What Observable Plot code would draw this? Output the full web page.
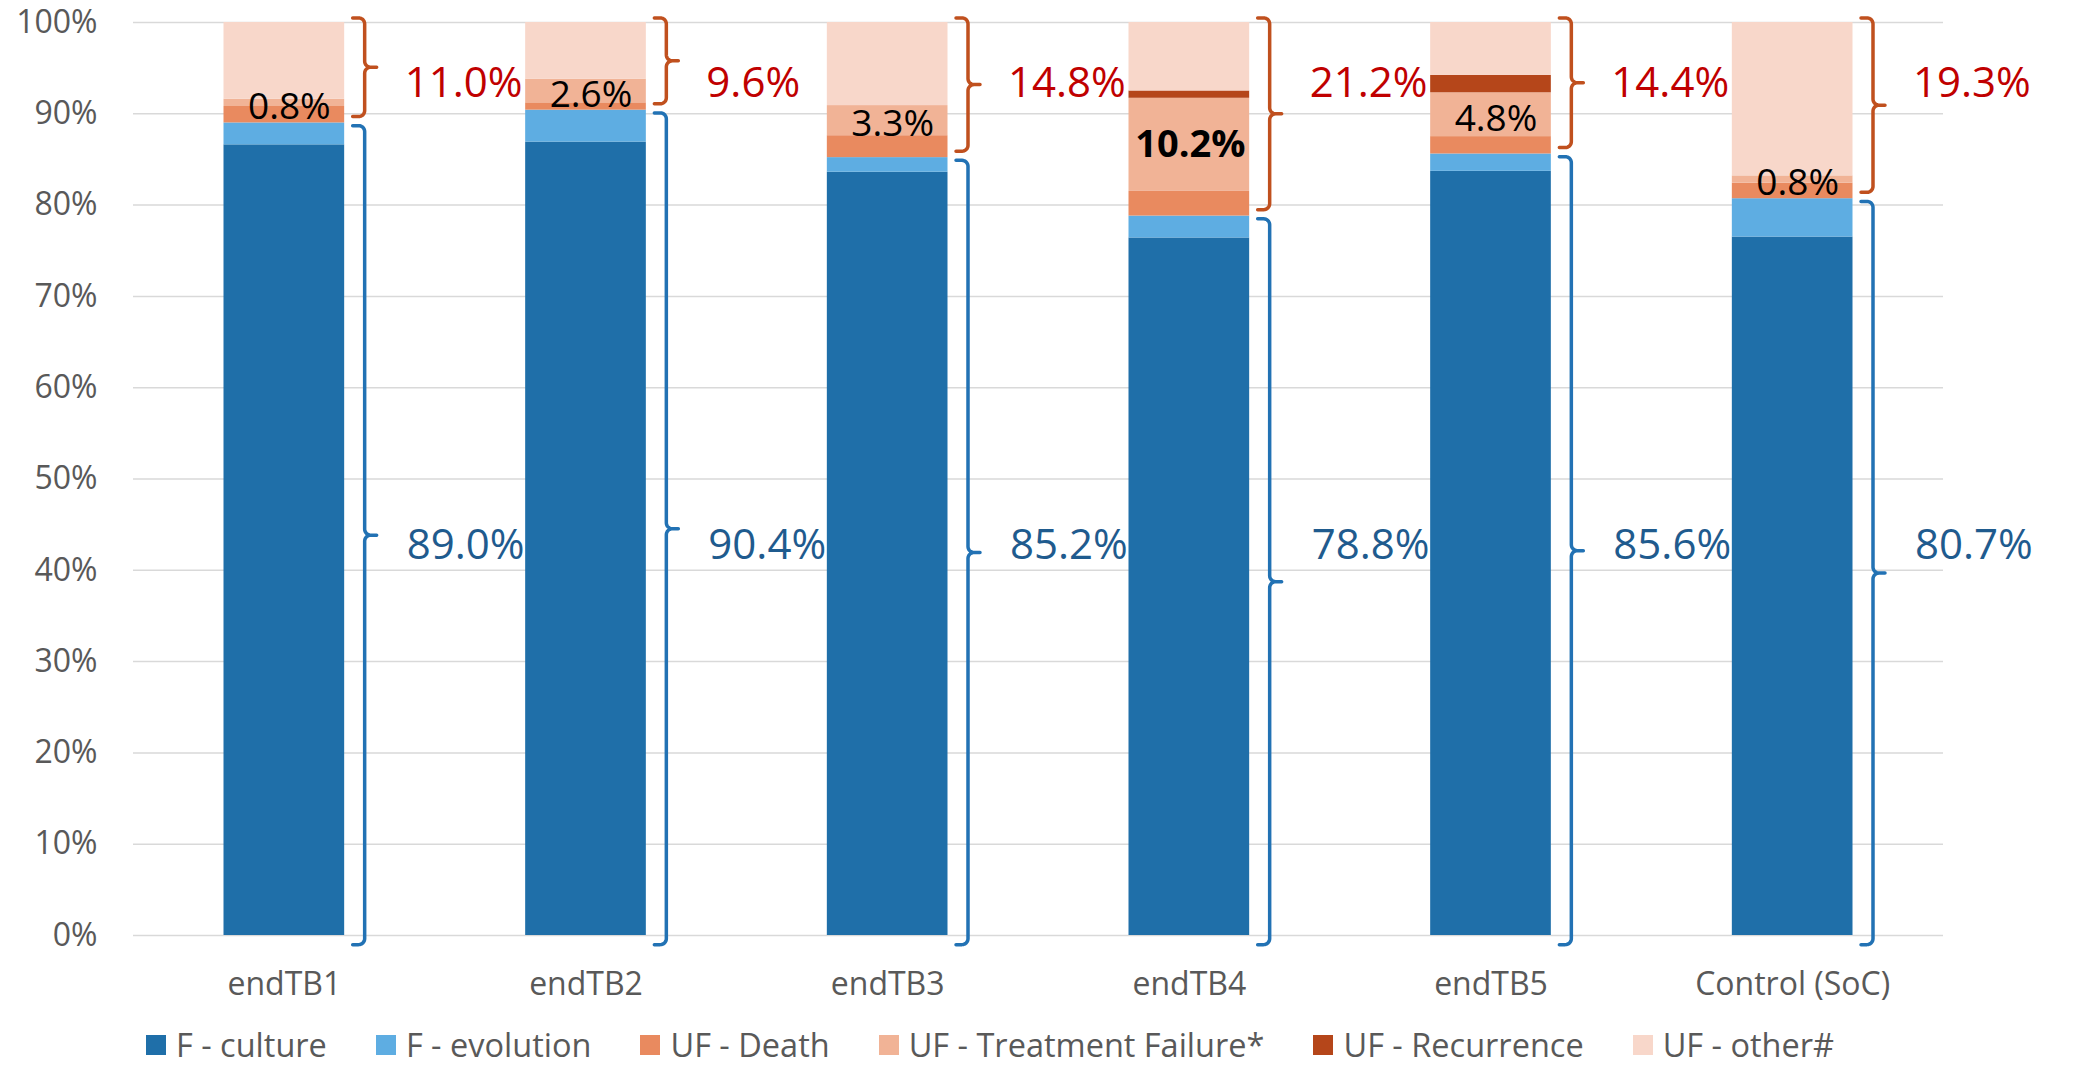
<!DOCTYPE html>
<html><head><meta charset="utf-8">
<script src="https://cdn.jsdelivr.net/npm/d3@7"></script>
<script src="https://cdn.jsdelivr.net/npm/@observablehq/plot@0.6"></script>
<style>
body{margin:0;background:#fff;overflow:hidden;}
#wrap{position:relative;width:2085px;height:1068px;font-family:"Open Sans",sans-serif;background:#fff;}
#legend{position:absolute;left:146px;top:1028px;height:33px;display:flex;align-items:center;font-size:32.5px;line-height:33px;color:#595959;white-space:nowrap;}
.item{display:flex;align-items:center;margin-right:49px;height:33px;}
.sw{width:20px;height:20px;margin-right:10px;flex:none;}
.lab{display:inline-block;height:33px;line-height:33px;}
</style></head>
<body><div id="wrap"><div id="chart"></div><div id="legend"></div></div>
<script>
// ---- data ----
const categories = ["endTB1", "endTB2", "endTB3", "endTB4", "endTB5", "Control (SoC)"];
const series = ["F - culture", "F - evolution", "UF - Death", "UF - Treatment Failure*", "UF - Recurrence", "UF - other#"];
const seriesColors = ["#1F6FA9", "#5EADE2", "#E98A5F", "#F1B396", "#B5461A", "#F8D7CA"];
const fCulture = [86.6, 86.9, 83.6, 76.4, 83.7, 76.5];
const fEvolution = [2.4, 3.5, 1.6, 2.4, 1.9, 4.2];
const ufDeath = [1.8, 0.8, 2.4, 2.7, 1.9, 1.7];
const ufTreatmentFailure = [0.8, 2.6, 3.3, 10.2, 4.8, 0.8];
const ufRecurrence = [0, 0, 0, 0.8, 1.9, 0];
const ufOther = [8.4, 6.2, 9.1, 7.5, 5.8, 16.8];
const yTicks = [0, 10, 20, 30, 40, 50, 60, 70, 80, 90, 100];
const boldLabelCategory = "endTB4";

// ---- layout ----
const W = 2085, H = 1020, mL = 133, mR = 142, mT = 22, mB = 85;
const UX = 6 / (W - mL - mR);        // data units per px (x)
const UY = 100 / (H - mT - mB);      // percent per px (y)
const BAR_HALF = 0.2;

const seriesValues = [fCulture, fEvolution, ufDeath, ufTreatmentFailure, ufRecurrence, ufOther];
const segments = [];
categories.forEach((c, i) => {
  let acc = 0;
  seriesValues.forEach((vals, s) => {
    const v = vals[i];
    if (v > 0) segments.push({i, cat: c, series: series[s], y1: acc, y2: acc + v});
    acc += v;
  });
});

const fTotal = categories.map((c, i) => fCulture[i] + fEvolution[i]);
const ufTotal = categories.map((c, i) => ufDeath[i] + ufTreatmentFailure[i] + ufRecurrence[i] + ufOther[i]);

const tfLabels = categories.map((c, i) => {
  const base = fTotal[i] + ufDeath[i];
  return {i, cat: c, y: base + ufTreatmentFailure[i] / 2, text: ufTreatmentFailure[i].toFixed(1) + "%"};
});

function bracePoints(i, yTop, yBot, key) {
  const xv = i + BAR_HALF + 20 * UX;
  const ym = (yTop + yBot) / 2;
  const Hpx = (yTop - yBot) / 2 / UY;
  const h = 12, r = 6, tip = 12;
  const px = [];
  const arc = (cx, cy, a0, a1) => {
    for (let k = 0; k <= 8; k++) {
      const a = (a0 + (a1 - a0) * k / 8) * Math.PI / 180;
      px.push([cx + r * Math.cos(a), cy + r * Math.sin(a)]);
    }
  };
  px.push([-h, Hpx]);
  arc(-r, Hpx - r, 90, 0);
  arc(r, r, 180, 270);
  px.push([tip, 0]);
  px.push([r, 0]);
  arc(r, -r, 90, 180);
  arc(-r, -Hpx + r, 0, -90);
  px.push([-h, -Hpx]);
  return px.map(([a, b]) => ({key, x: xv + a * UX, y: ym + b * UY}));
}

const blueBraces = categories.flatMap((c, i) => bracePoints(i, fTotal[i] - 0.3, -1.0, "b" + i));
const orangeBraces = categories.flatMap((c, i) => bracePoints(i, 100.5, fTotal[i] + 0.7, "o" + i));

const fLabels = categories.map((c, i) => ({i, text: fTotal[i].toFixed(1) + "%"}));
const ufLabels = categories.map((c, i) => ({i, text: ufTotal[i].toFixed(1) + "%"}));

const chart = Plot.plot({
  width: W, height: H,
  marginLeft: mL, marginRight: mR, marginTop: mT, marginBottom: mB,
  style: {fontFamily: "Open Sans", fontSize: "32px", color: "#595959", background: "white", overflow: "visible"},
  x: {type: "linear", domain: [-0.5, 5.5], ticks: d3.range(categories.length), tickFormat: i => categories[i], tickSize: 0, tickPadding: 37, label: null},
  y: {domain: [0, 100], ticks: yTicks, tickFormat: d => d + "%", tickSize: 0, tickPadding: 36, label: null},
  color: {domain: series, range: seriesColors},
  marks: [
    Plot.ruleY(yTicks, {stroke: "#D9D9D9", strokeWidth: 1.5}),
    Plot.rect(segments, {x1: d => d.i - BAR_HALF, x2: d => d.i + BAR_HALF, y1: "y1", y2: "y2", fill: "series"}),
    Plot.line(blueBraces, {x: "x", y: "y", z: "key", stroke: "#2272B4", strokeWidth: 3.5, strokeLinejoin: "round"}),
    Plot.line(orangeBraces, {x: "x", y: "y", z: "key", stroke: "#C0501E", strokeWidth: 3.5, strokeLinejoin: "round"}),
    Plot.text(tfLabels.filter(d => d.cat !== boldLabelCategory), {x: "i", y: "y", text: "text", dx: 5, dy: 4, fontSize: 37, fill: "black", fontFamily: "Open Sans"}),
    Plot.text(tfLabels.filter(d => d.cat === boldLabelCategory), {x: "i", y: "y", text: "text", dx: 1, dy: 0, fontSize: 38, fontWeight: "bold", fill: "black", fontFamily: "Open Sans"}),
    Plot.text(ufLabels, {x: d => d.i + BAR_HALF + 60 * UX, y: () => 93.3, text: "text", textAnchor: "start", fontSize: 42, fill: "#C00000", fontFamily: "Open Sans"}),
    Plot.text(fLabels, {x: d => d.i + BAR_HALF + 62 * UX, y: () => 42.7, text: "text", textAnchor: "start", fontSize: 42, fill: "#1F5B8E", fontFamily: "Open Sans"})
  ]
});
document.getElementById("chart").appendChild(chart);

const legend = document.getElementById("legend");
series.forEach((s, k) => {
  const item = document.createElement("div");
  item.className = "item";
  const sw = document.createElement("div");
  sw.className = "sw";
  sw.style.background = seriesColors[k];
  const lab = document.createElement("div");
  lab.className = "lab";
  lab.textContent = s;
  item.appendChild(sw);
  item.appendChild(lab);
  legend.appendChild(item);
});
</script>
</body></html>
